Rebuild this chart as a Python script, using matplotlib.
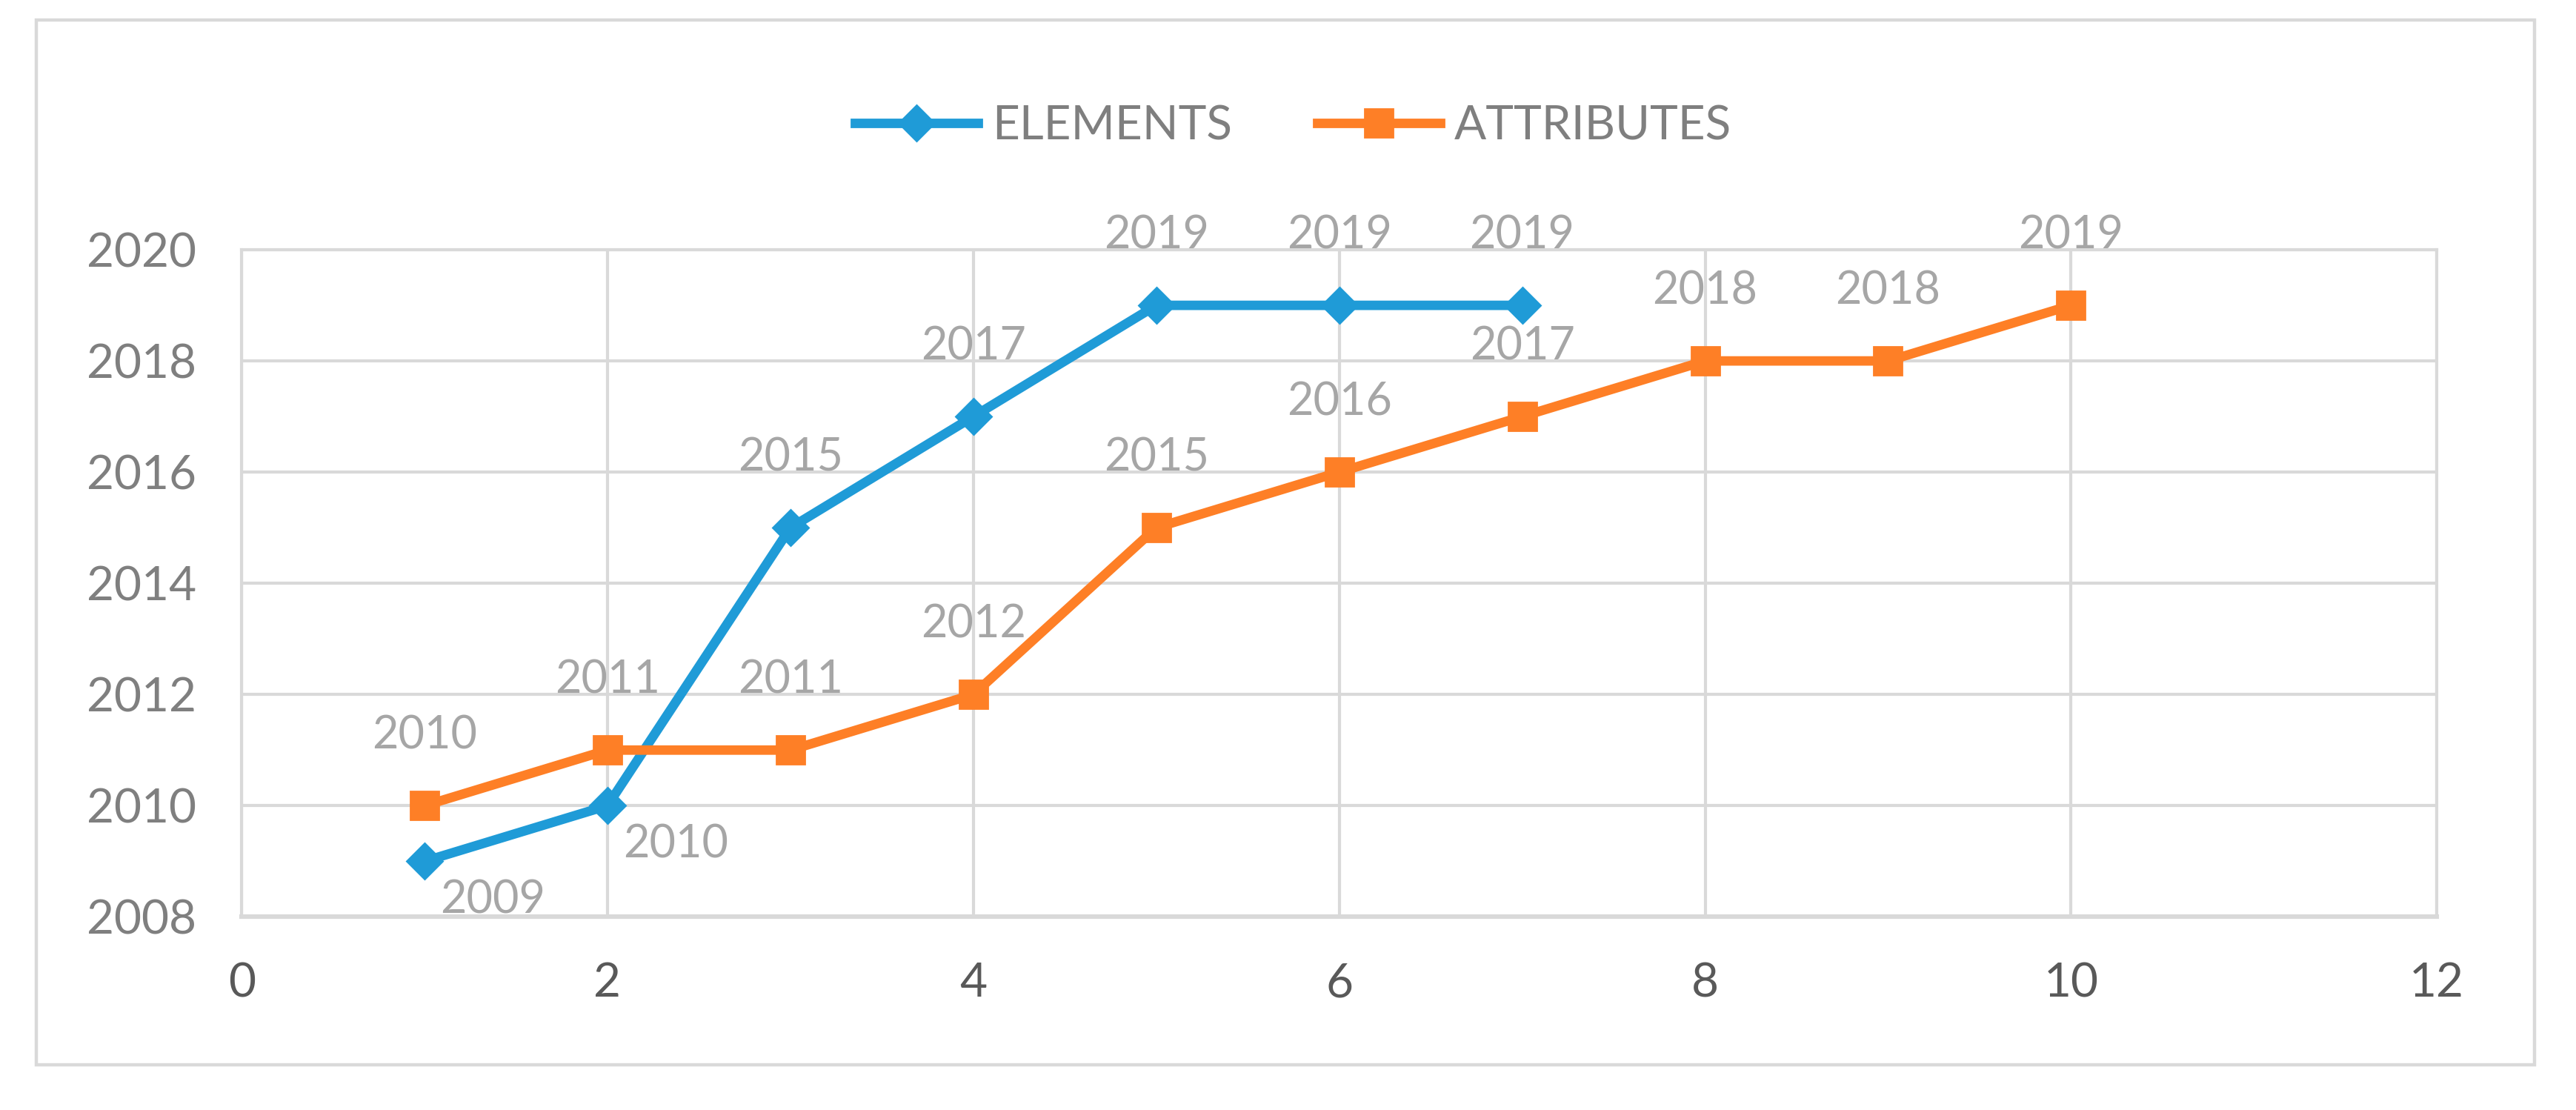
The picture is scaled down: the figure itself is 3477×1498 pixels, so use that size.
import matplotlib.pyplot as plt
from matplotlib.patches import Rectangle

# data
x_elements = [1, 2, 3, 4, 5, 6, 7]
elements = [2009, 2010, 2015, 2017, 2019, 2019, 2019]
x_attributes = [1, 2, 3, 4, 5, 6, 7, 8, 9, 10]
attributes = [2010, 2011, 2011, 2012, 2015, 2016, 2017, 2018, 2018, 2019]

blue = '#1f9bd7'
orange = '#fe7f26'
grid_gray = '#d9d9d9'
label_gray = '#a6a6a6'

plt.rcParams['font.family'] = ['Lato', 'DejaVu Sans']

fig = plt.figure(figsize=(17.385, 7.49), dpi=200)
ax = fig.add_axes([0.0938, 0.174, 0.8522, 0.601])

# outer chart border
fig.patches.append(Rectangle((0.014, 0.041), 0.970, 0.941, transform=fig.transFigure,
                             fill=False, edgecolor=grid_gray, linewidth=1.6))

ax.plot(x_elements, elements, color=blue, linewidth=4.6, marker='D', markersize=12,
        label='ELEMENTS', zorder=3)
ax.plot(x_attributes, attributes, color=orange, linewidth=4.6, marker='s', markersize=14,
        label='ATTRIBUTES', zorder=3)

# data labels: first two elements labels sit below-right, the rest above
for i, (x, y) in enumerate(zip(x_elements, elements)):
    if i < 2:
        off = (33, -19)
    else:
        off = (0, 34)
    ax.annotate(str(y), (x, y), xytext=off, textcoords='offset points',
                ha='center', va='center', fontsize=22, color=label_gray)
for x, y in zip(x_attributes, attributes):
    ax.annotate(str(y), (x, y), xytext=(0, 34), textcoords='offset points',
                ha='center', va='center', fontsize=22, color=label_gray)

ax.set_xlim(0, 12)
ax.set_ylim(2008, 2020)
ax.set_xticks(range(0, 13, 2))
ax.set_yticks(range(2008, 2021, 2))
ax.grid(True, color=grid_gray, linewidth=1.5)
ax.set_axisbelow(True)
for side in ['top', 'right', 'left']:
    ax.spines[side].set_color(grid_gray)
    ax.spines[side].set_linewidth(1.5)
ax.spines['bottom'].set_color(grid_gray)
ax.spines['bottom'].set_linewidth(2.2)
ax.tick_params(axis='both', length=0, labelsize=23)
ax.tick_params(axis='y', colors='#7f7f7f', pad=22)
ax.tick_params(axis='x', colors='#595959', pad=22)

ax.legend(loc='center', bbox_to_anchor=(0.502, 0.886), bbox_transform=fig.transFigure,
          ncol=2, frameon=False, fontsize=23, labelcolor='#7f7f7f',
          handlelength=2.6, columnspacing=1.8, handletextpad=0.3)

fig.savefig('out.png', dpi=200, facecolor='white')
